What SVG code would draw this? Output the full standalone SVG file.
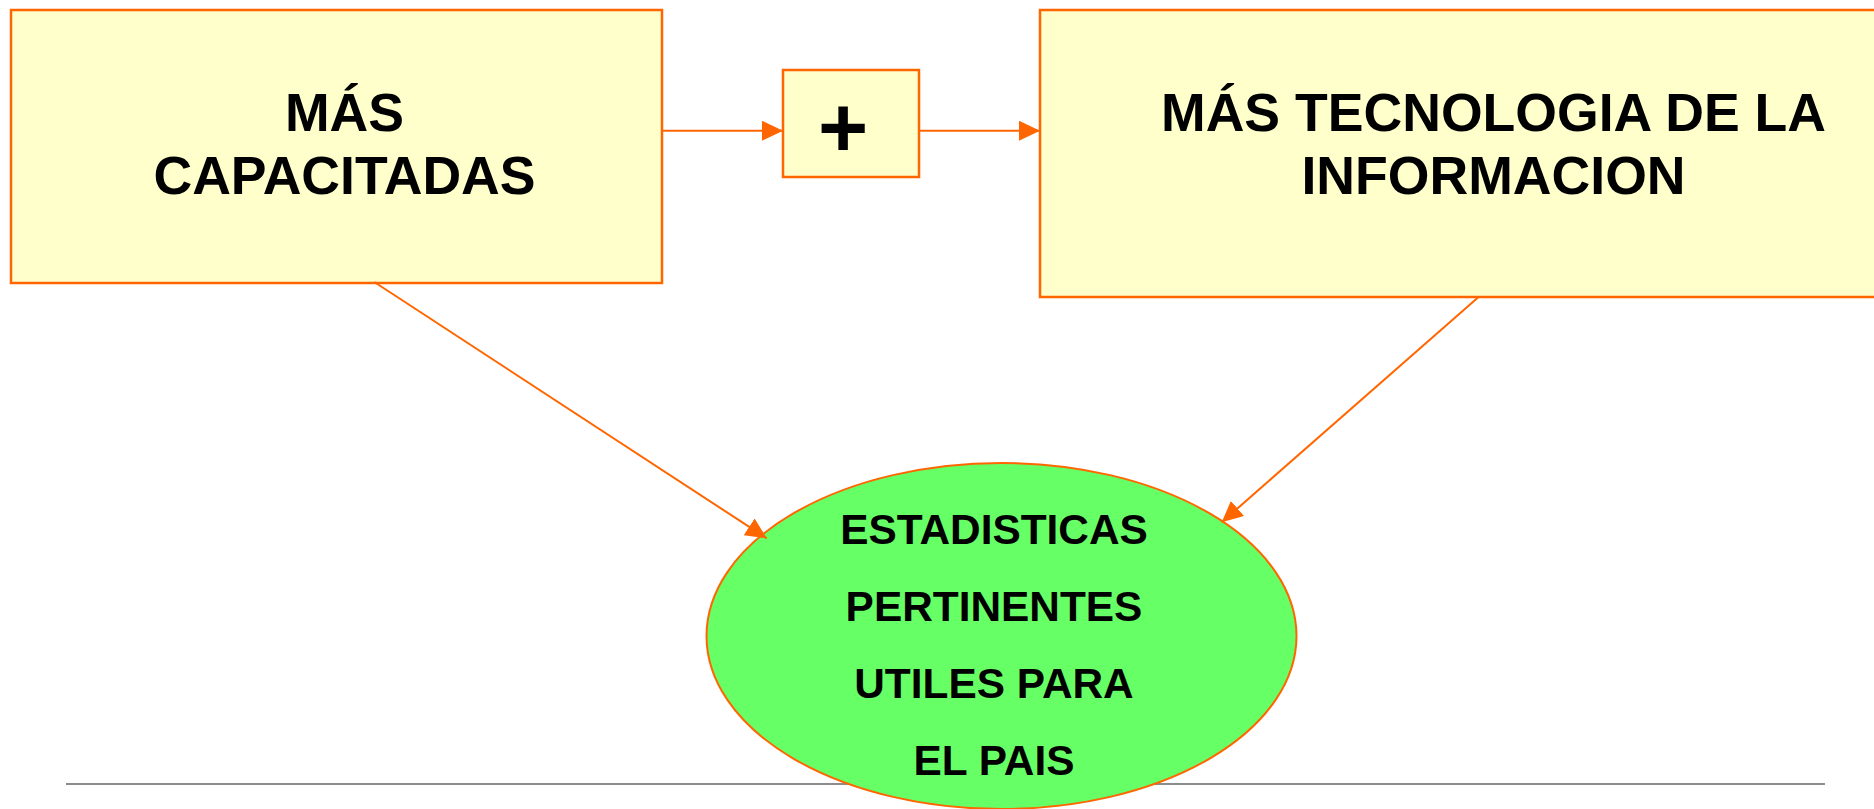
<svg xmlns="http://www.w3.org/2000/svg" width="1874" height="809" viewBox="0 0 1874 809">
<style>
.box{fill:#FFFFCC;stroke:#FF6600;stroke-width:2.5}
.ell{fill:#66FF66;stroke:#FF6600;stroke-width:2}
.con{stroke:#FF6600;stroke-width:2;fill:none}
.t{font-family:"Liberation Sans",Arial,sans-serif;font-weight:bold;fill:#000;text-anchor:middle}
.big{font-size:53.6px}
.mid{font-size:42.4px}
</style>
<defs>
<marker id="ah" markerUnits="userSpaceOnUse" markerWidth="22" markerHeight="20" refX="21" refY="10" orient="auto">
<path d="M0,0 L21,10 L0,20 Z" fill="#FF6600"/>
</marker>
</defs>
<rect width="1874" height="809" fill="#FFFFFF"/>
<line x1="66" y1="784" x2="1825" y2="784" stroke="#8C8C8C" stroke-width="2"/>
<g id="node-capacitadas">
<rect class="box" x="11" y="10" width="651" height="273"/>
<text class="t big" x="344.5" y="131">MÁS</text>
<text class="t big" x="344.5" y="194">CAPACITADAS</text>
</g>
<g id="node-plus">
<rect class="box" x="783" y="70" width="136" height="107"/>
<text class="t" x="843" y="157" font-size="86">+</text>
</g>
<g id="node-tecnologia">
<rect class="box" x="1040" y="10" width="840" height="287"/>
<text class="t big" x="1493.5" y="131">MÁS TECNOLOGIA DE LA</text>
<text class="t big" x="1493.5" y="194">INFORMACION</text>
</g>
<g id="node-estadisticas">
<ellipse class="ell" cx="1001.5" cy="636" rx="295" ry="173"/>
<text class="t mid" x="994" y="544">ESTADISTICAS</text>
<text class="t mid" x="994" y="621">PERTINENTES</text>
<text class="t mid" x="994" y="698">UTILES PARA</text>
<text class="t mid" x="994" y="775">EL PAIS</text>
</g>
<g id="connectors">
<line class="con" x1="662" y1="130.7" x2="783" y2="130.7" marker-end="url(#ah)"/>
<line class="con" x1="919" y1="130.7" x2="1040" y2="130.7" marker-end="url(#ah)"/>
<line class="con" x1="374.3" y1="282" x2="766.7" y2="538.3" marker-end="url(#ah)"/>
<line class="con" x1="1478" y1="297.5" x2="1221.7" y2="522.3" marker-end="url(#ah)"/>
</g>
</svg>
